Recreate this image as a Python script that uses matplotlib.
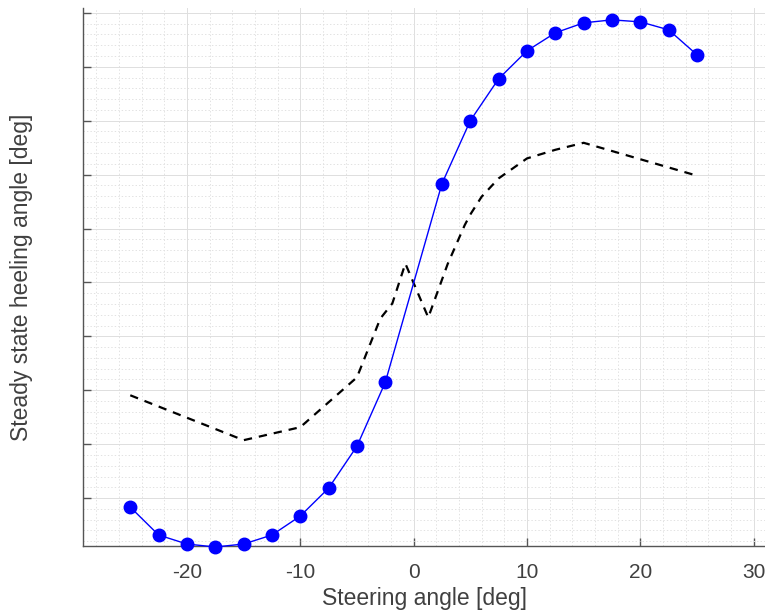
import matplotlib
matplotlib.use("Agg")
import matplotlib.pyplot as plt
from matplotlib.ticker import MultipleLocator, NullFormatter

plt.rcParams['font.family'] = ['Liberation Sans', 'DejaVu Sans']
plt.rcParams['lines.scale_dashes'] = False

# Steady-state heel vs rudder angle (simulated points)
steer_sim = [-25, -22.5, -20, -17.5, -15, -12.5, -10, -7.5, -5, -2.5,
             2.5, 5, 7.5, 10, 12.5, 15, 17.5, 20, 22.5, 25]
heel_sim = [0.833, 0.315, 0.148, 0.093, 0.148, 0.315, 0.667, 1.185, 1.963, 3.148,
            6.833, 8.0, 8.778, 9.296, 9.630, 9.815, 9.870, 9.833, 9.685, 9.222]

# Reference curve (dashed)
steer_ref = [-25, -15, -10, -5, -2.94, -1.88, -0.73, 1.29, 3, 4.5, 5, 6, 7.5, 10, 12.5, 15, 25]
heel_ref = [2.907, 2.074, 2.315, 3.24, 4.33, 4.61, 5.35, 4.35, 5.34, 6.06, 6.26, 6.59,
            6.93, 7.30, 7.46, 7.59, 6.98]

x_ticks = [-20, -10, 0, 10, 20, 30]
x_tick_labels = ['-20', '-10', '0', '10', '20', '30']

fig = plt.figure(figsize=(7.65, 6.16), dpi=100)
ax = fig.add_axes([0.1085, 0.1136, 1.0 - 0.1085, 0.987 - 0.1136])

ax.plot(steer_ref, heel_ref, color='black', lw=1.6, linestyle=(0, (6, 5)), zorder=3)
ax.plot(steer_sim, heel_sim, color='#0000ff', lw=1.0, marker='o', markersize=9,
        markerfacecolor='#0000ff', markeredgecolor='#0000ff', zorder=4, clip_on=False)

ax.set_xlim(-29.17, 31.0)
ax.set_ylim(0.111, 10.09)

ax.set_xticks(x_ticks)
ax.set_xticklabels(x_tick_labels)
ax.xaxis.set_minor_locator(MultipleLocator(2))
ax.yaxis.set_major_locator(MultipleLocator(1))
ax.yaxis.set_minor_locator(MultipleLocator(0.2))
ax.yaxis.set_major_formatter(NullFormatter())

ax.grid(which='major', color='#dedede', linestyle='-', linewidth=0.7, zorder=0)
ax.grid(which='minor', color='#e2e2e2', linestyle=(0, (1, 1.5)), linewidth=0.7, zorder=0)
ax.set_axisbelow(True)

for side in ('top', 'right'):
    ax.spines[side].set_visible(False)
for side in ('left', 'bottom'):
    ax.spines[side].set_color('#555555')
    ax.spines[side].set_linewidth(1.0)

ax.tick_params(which='major', direction='in', length=6, width=1.0, color='#555555',
               labelsize=15, labelcolor='#404040', pad=12)
ax.tick_params(which='minor', length=0)

ax.set_xlabel('Steering angle [deg]', fontsize=16.5, color='#404040', labelpad=4)
ax.set_ylabel('Steady state heeling angle [deg]', fontsize=16.5, color='#404040', labelpad=24)

fig.savefig('out.png', dpi=100)
